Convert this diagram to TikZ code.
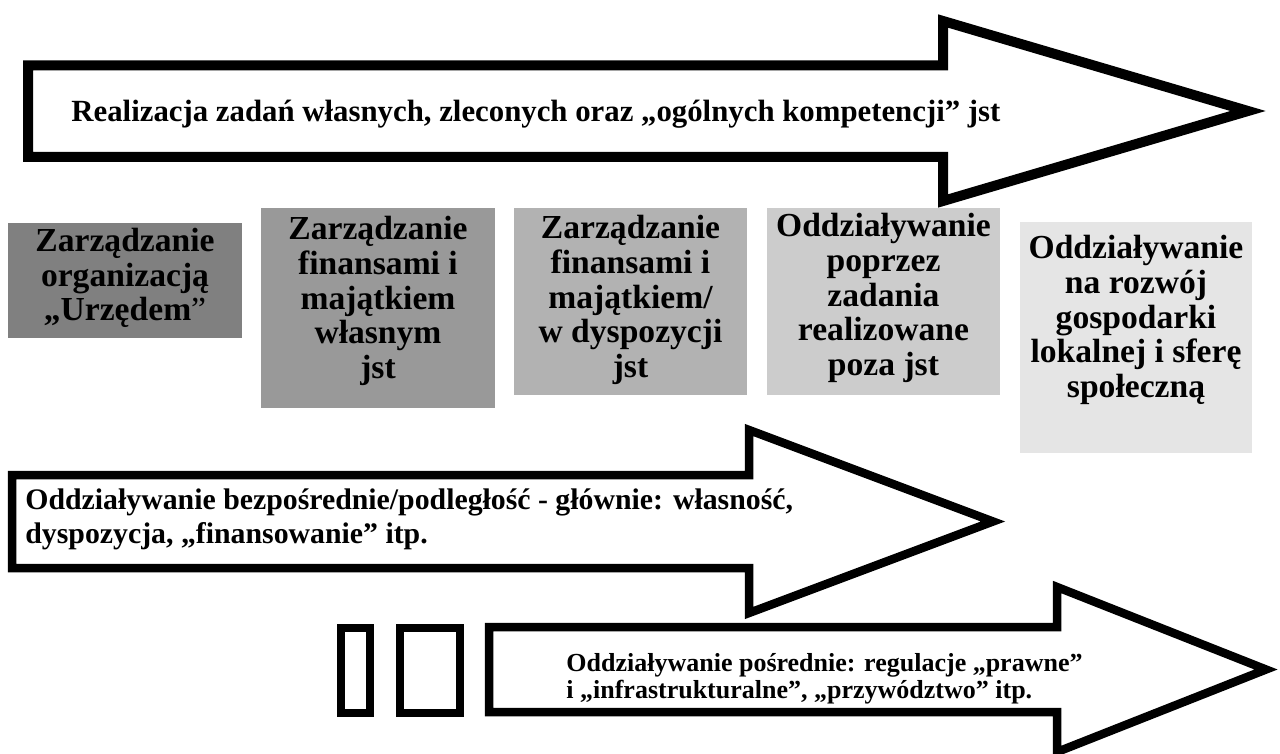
\documentclass[tikz,border=0pt]{standalone}
\usepackage{fontspec}
\setmainfont{Liberation Serif}
\begin{document}
\begin{tikzpicture}[x=.5pt,y=-.5pt,
        bigarrow/.style={draw=black,fill=white,line width=#1,line join=miter},
        tiletext/.style={inner sep=0,align=center,font=\fontsize{16.8}{17.35}\selectfont\bfseries},
        arrowtext/.style={inner sep=0,anchor=west,align=left,font=\fontsize{#1}{17}\selectfont\bfseries}]
    \useasboundingbox (0,0) rectangle (1280,754);
    \draw[bigarrow=5pt] (28,65.5) -- (943,65.5) -- (943,21) -- (1248,111) -- (943,201) -- (943,157) -- (28,157) -- cycle;
    \draw[bigarrow=4.25pt] (12,475) -- (749,475) -- (749,430) -- (993,521.5) -- (749,613) -- (749,568) -- (12,568) -- cycle;
    \draw[bigarrow=4.25pt] (489,627) -- (1057,627) -- (1057,587) -- (1266,669.5) -- (1057,752) -- (1057,712) -- (489,712) -- cycle;
    \draw[line width=4pt] (340.5,628) rectangle (370,713);
    \draw[line width=4pt] (400,628) rectangle (460,713);
    \fill[black!50] (8,223) rectangle (242,338);
    \fill[black!40] (261,208) rectangle (495,408);
    \fill[black!30] (514,208) rectangle (747,395);
    \fill[black!20] (767,208) rectangle (1000,395);
    \fill[black!10] (1020,222) rectangle (1252,453);
    \node[tiletext] at (125,278)(urzad){Zarządzanie\\organizacją\\„Urzędem{\mdseries ”}};
    \node[tiletext] at (378,301)(wlasny){Zarządzanie\\finansami i\\majątkiem\\własnym\\jst};
    \node[tiletext] at (630.5,300)(dyspozycja){Zarządzanie\\finansami i\\majątkiem/\\w dyspozycji\\jst};
    \node[tiletext] at (883.5,298)(zadania){Oddziaływanie\\poprzez\\zadania\\realizowane\\poza jst};
    \node[tiletext] at (1136,320)(rozwoj){Oddziaływanie\\na rozwój\\gospodarki\\lokalnej i sferę\\społeczną};
    \node[arrowtext=15.4] at (71,114)(realizacja){Realizacja zadań własnych, zleconych oraz „ogólnych kompetencji” jst};
    \node[arrowtext=14.9] at (25,519)(bezposr){Oddziaływanie bezpośrednie/podległość - głównie: własność,\\dyspozycja, „finansowanie” itp.};
    \node[arrowtext=13,font=\fontsize{13}{13.5}\selectfont\bfseries] at (566,679)(posr){Oddziaływanie pośrednie: regulacje „prawne”\\i „infrastrukturalne”, „przywództwo” itp.};
\end{tikzpicture}
\end{document}
